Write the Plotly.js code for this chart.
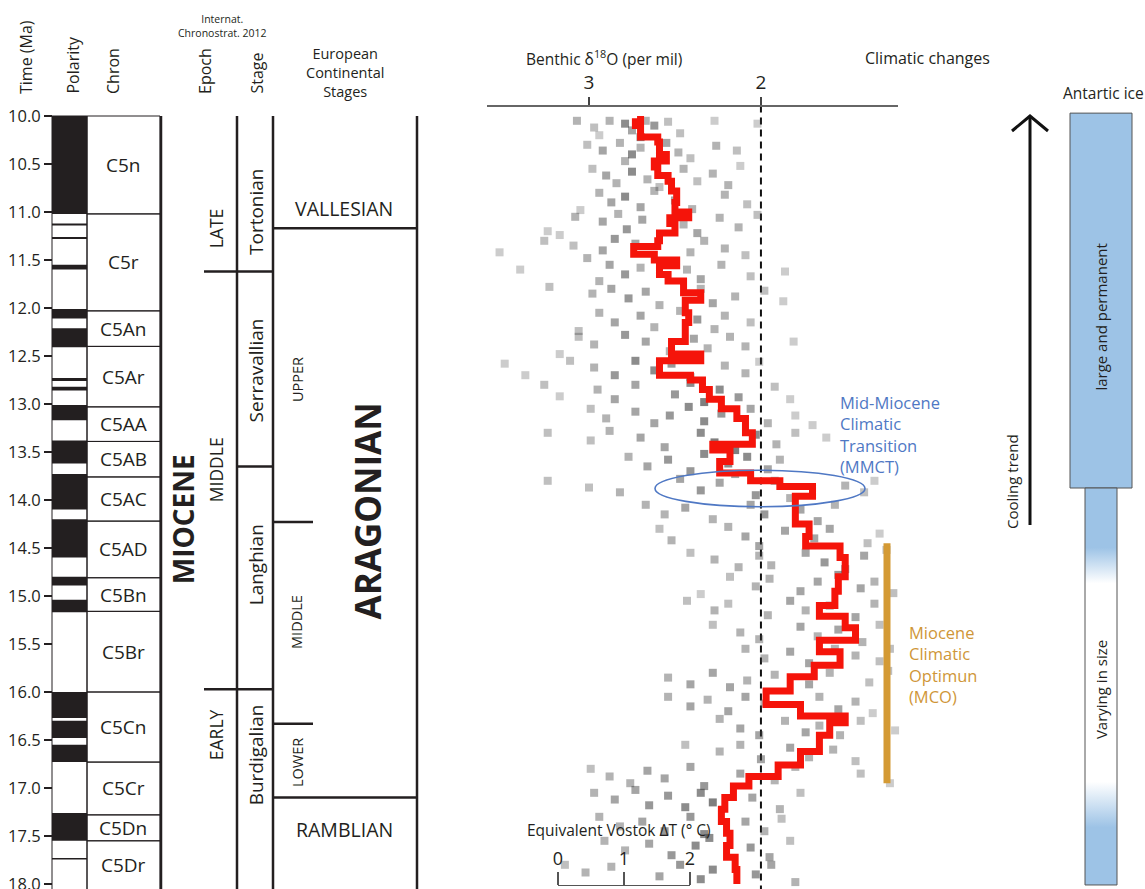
<!DOCTYPE html>
<html><head><meta charset="utf-8">
<script src="https://cdn.plot.ly/plotly-3.0.1.min.js"></script>
<style>html,body{margin:0;padding:0;background:#fff}#chart{width:1145px;height:889px}</style>
</head><body><div id="chart"></div>
<script>
// ---------------- DATA ----------------
const timeTicks = [10,10.5,11,11.5,12,12.5,13,13.5,14,14.5,15,15.5,16,16.5,17,17.5,18];
const isoTicks = [3, 2];
const vostokTicks = [0, 1, 2];

// magnetic polarity: normal (black) intervals, Ma
const normalStart = [10.00,11.12,11.26,11.55,12.01,12.21,12.73,12.82,13.01,13.38,13.73,14.20,14.80,15.04,16.00,16.30,16.55,17.26,17.73];
const normalEnd   = [11.02,11.14,11.28,11.60,12.11,12.41,12.76,12.86,13.17,13.62,14.10,14.60,14.89,15.17,16.27,16.48,16.73,17.55,17.745];

// chrons
const chronNames  = ['C5n','C5r','C5An','C5Ar','C5AA','C5AB','C5AC','C5AD','C5Bn','C5Br','C5Cn','C5Cr','C5Dn','C5Dr'];
const chronBounds = [10.00,11.02,12.03,12.40,13.03,13.39,13.76,14.22,14.81,15.16,16.00,16.73,17.28,17.55,18.06];

// epochs / stages (International Chronostratigraphic chart 2012)
const epochNames  = ['LATE','MIDDLE','EARLY'];
const epochBounds = [10.00, 11.62, 15.97, 18.06];
const stageNames  = ['Tortonian','Serravallian','Langhian','Burdigalian'];
const stageBounds = [10.00, 11.62, 13.65, 15.97, 18.06];

// European continental stages
const euroNames   = ['VALLESIAN','ARAGONIAN','RAMBLIAN'];
const euroBounds  = [10.00, 11.17, 17.10, 18.06];
const subNames    = ['UPPER','MIDDLE','LOWER'];
const subBounds   = [11.17, 14.23, 16.33, 17.10];

// benthic d18O samples (per mil, Ma, relative density)
const isoD = [
 3.07,2.97,2.88,2.79,2.75,2.67,2.62,2.54,2.47,2.27,2.02,2.94,2.70,
 3.01,2.92,2.82,2.75,2.70,2.55,2.48,2.41,2.26,2.14,2.79,
 2.98,2.90,2.84,2.75,2.66,2.45,2.37,2.28,2.19,2.12,2.59,
 2.94,2.87,2.79,2.70,2.62,2.50,2.40,2.21,2.08,3.05,
 3.08,2.92,2.83,2.78,2.69,2.45,2.37,2.24,2.13,2.02,3.24,3.17,
 3.26,3.09,2.92,2.85,2.73,2.41,2.33,2.21,2.09,3.78,3.52,3.01,
 3.63,3.40,2.88,2.79,2.70,2.43,2.35,2.23,2.06,1.86,2.94,
 3.23,2.98,2.87,2.77,2.67,2.35,2.28,2.15,1.98,1.87,2.59,
 2.94,2.85,2.70,2.62,2.47,2.37,2.27,2.21,2.06,3.06,
 3.06,2.97,2.79,2.67,2.53,2.39,2.31,2.18,2.09,1.81,3.17,
 3.74,3.49,3.37,3.11,2.97,2.85,2.73,2.62,2.52,2.41,2.21,2.09,2.01,
 3.26,3.17,2.95,2.85,2.73,2.50,2.41,2.33,2.24,2.13,1.92,1.83,
 2.99,2.90,2.73,2.62,2.53,2.42,2.33,2.23,2.06,1.96,1.80,1.70,
 3.24,2.99,2.88,2.70,2.56,2.35,2.27,2.15,2.03,1.91,1.80,1.62,
 2.77,2.66,2.54,2.41,2.33,2.19,2.08,1.96,1.89,2.15,
 3.24,3.00,2.82,2.47,2.35,2.24,2.03,1.92,1.83,1.51,1.40,1.34,
 2.67,2.56,2.44,2.28,2.06,1.98,1.77,1.67,1.57,1.16,
 2.59,2.52,2.19,2.09,2.01,1.86,1.69,1.60,1.38,1.31,
 2.41,2.27,2.13,2.01,1.94,1.74,1.63,1.51,1.40,1.27,0.96,0.71,
 2.18,2.03,1.95,1.77,1.67,1.55,1.42,1.34,1.23,2.35,
 2.43,2.27,2.19,1.96,1.83,1.74,1.60,1.45,1.34,1.19,0.99,
 2.28,2.12,2.01,1.77,1.67,1.55,1.41,1.31,1.19,
 2.09,1.98,1.83,1.72,1.57,1.45,1.31,1.25,1.08,
 2.54,2.41,2.28,2.18,2.08,1.92,1.72,1.60,1.37,1.26,
 2.54,2.41,2.31,2.19,2.09,1.98,1.66,1.55,1.45,1.35,
 2.24,2.12,2.01,1.86,1.74,1.66,1.54,1.42,1.22,1.13,
 2.44,2.24,2.12,2.00,1.83,1.72,1.58,1.45,1.15,1.05,
 2.99,2.88,2.76,2.66,2.56,2.41,2.33,2.12,1.92,1.80,1.42,1.25,
 2.97,2.85,2.73,2.65,2.54,2.44,2.35,2.28,2.05,1.89,1.77,
 2.94,2.82,2.69,2.56,2.41,2.33,2.09,1.98,1.88,
 2.91,2.79,2.65,2.52,2.38,2.30,2.06,1.95,1.83,
 3.14,3.02,2.87,2.59,2.47,2.35,2.28,2.03,1.94,1.80
];
const isoAge = [
 10.05,10.12,10.05,10.08,10.15,10.05,10.10,10.06,10.18,10.05,10.08,10.20,10.22,
 10.30,10.36,10.28,10.40,10.33,10.28,10.38,10.44,10.31,10.36,10.47,
 10.55,10.62,10.70,10.58,10.66,10.55,10.68,10.60,10.72,10.52,10.74,
 10.80,10.90,10.84,10.95,10.78,10.88,10.97,10.82,10.92,10.98,
 11.05,11.10,11.02,11.18,11.08,11.13,11.22,11.06,11.16,11.03,11.20,11.24,
 11.30,11.35,11.40,11.28,11.33,11.42,11.30,11.38,11.45,11.47,11.42,11.48,
 11.52,11.60,11.55,11.65,11.58,11.60,11.70,11.55,11.67,11.62,11.72,
 11.78,11.85,11.80,11.90,11.83,11.80,11.95,11.88,11.82,11.93,11.97,
 12.05,12.15,12.08,12.20,12.03,12.12,12.22,12.08,12.15,12.24,
 12.30,12.38,12.28,12.35,12.45,12.32,12.42,12.30,12.40,12.35,12.48,
 12.65,12.58,12.70,12.55,12.62,12.70,12.55,12.65,12.58,12.72,12.60,12.68,12.56,
 12.80,12.92,12.85,12.95,12.80,12.90,12.78,12.98,12.85,12.93,12.82,12.95,
 13.05,13.15,13.08,13.20,13.12,13.03,13.18,13.10,13.05,13.20,13.12,13.22,
 13.30,13.38,13.28,13.35,13.45,13.30,13.40,13.48,13.32,13.42,13.30,13.35,
 13.55,13.65,13.58,13.70,13.52,13.62,13.55,13.68,13.58,13.73,
 13.80,13.87,13.92,13.78,13.90,13.82,13.95,13.80,13.98,13.85,13.92,13.80,
 14.05,14.15,14.08,14.20,14.05,14.15,14.10,14.22,14.05,14.12,
 14.30,14.42,14.28,14.38,14.48,14.32,14.40,14.30,14.45,14.35,
 14.55,14.62,14.70,14.58,14.68,14.55,14.65,14.72,14.58,14.52,14.65,14.60,
 14.80,14.90,14.82,14.95,14.85,14.78,14.92,14.85,14.97,14.98,
 15.05,15.15,15.08,15.20,15.05,15.15,15.10,15.22,15.08,15.18,15.12,
 15.30,15.38,15.45,15.32,15.42,15.35,15.48,15.30,15.45,
 15.55,15.65,15.58,15.70,15.55,15.62,15.68,15.55,15.72,
 15.85,15.92,15.80,15.95,15.88,15.82,15.92,15.80,15.90,15.78,
 16.05,16.15,16.08,16.20,16.05,16.12,16.05,16.18,16.10,16.22,
 16.28,16.38,16.45,16.30,16.42,16.35,16.45,16.30,16.40,16.48,
 16.55,16.62,16.55,16.70,16.58,16.68,16.60,16.72,16.58,16.65,
 16.80,16.88,16.95,16.82,16.90,16.78,16.98,16.85,16.92,16.78,16.85,16.95,
 17.05,17.12,17.02,17.18,17.08,17.20,17.05,17.15,17.10,17.22,17.05,
 17.30,17.40,17.35,17.45,17.30,17.48,17.35,17.45,17.32,
 17.55,17.65,17.58,17.70,17.60,17.52,17.62,17.72,17.55,
 17.80,17.88,17.82,17.92,17.80,17.95,17.85,17.90,17.80,17.98
];
const isoWeight = [
 .3,.25,.3,.45,.35,.3,.4,.25,.25,.2,.2,.2,.5,
 .25,.35,.3,.45,.3,.35,.3,.25,.3,.25,.3,
 .25,.35,.3,.45,.3,.3,.25,.3,.3,.2,.25,
 .3,.35,.45,.35,.3,.35,.3,.3,.25,.2,
 .3,.35,.3,.4,.35,.3,.35,.3,.3,.25,.2,.2,
 .25,.25,.35,.4,.35,.3,.3,.3,.25,.25,.2,.3,
 .2,.2,.35,.4,.3,.3,.35,.3,.25,.2,.3,
 .25,.3,.35,.4,.35,.3,.35,.3,.25,.2,.3,
 .3,.35,.35,.3,.3,.4,.3,.3,.25,.25,
 .25,.3,.4,.35,.3,.35,.3,.3,.3,.2,.2,
 .25,.2,.2,.25,.3,.4,.45,.45,.4,.35,.3,.3,.2,
 .25,.2,.3,.35,.35,.4,.45,.5,.45,.4,.25,.2,
 .25,.3,.35,.35,.4,.45,.45,.4,.35,.3,.2,.2,
 .25,.25,.3,.35,.35,.45,.5,.5,.45,.3,.25,.2,
 .3,.35,.4,.4,.45,.45,.45,.35,.3,.35,
 .25,.25,.3,.35,.4,.35,.4,.35,.3,.3,.25,.2,
 .3,.3,.35,.3,.35,.4,.35,.35,.3,.2,
 .25,.3,.3,.35,.35,.35,.35,.35,.25,.2,
 .25,.3,.3,.3,.3,.35,.4,.4,.35,.25,.2,.2,
 .25,.3,.3,.35,.35,.4,.35,.3,.25,.2,
 .25,.3,.25,.3,.35,.3,.35,.35,.3,.25,.2,
 .25,.3,.3,.35,.3,.35,.3,.25,.2,
 .3,.3,.35,.35,.3,.3,.25,.25,.2,
 .3,.35,.35,.35,.3,.3,.35,.3,.25,.25,
 .3,.35,.3,.35,.35,.3,.3,.35,.3,.2,
 .3,.35,.35,.3,.35,.3,.3,.25,.2,.2,
 .25,.3,.3,.35,.35,.3,.3,.25,.2,.2,
 .25,.3,.3,.35,.35,.35,.4,.35,.3,.3,.25,.2,
 .3,.35,.35,.4,.4,.45,.45,.5,.35,.3,.25,
 .3,.3,.35,.4,.4,.45,.35,.3,.25,
 .3,.3,.35,.4,.45,.45,.4,.35,.25,
 .25,.3,.3,.35,.4,.45,.45,.4,.35,.3
];

// smoothed d18O curve (red)
const smoothD = [2.70,2.70,2.73,2.70,2.60,2.59,2.55,2.62,2.60,2.54,
 2.52,2.49,2.50,2.42,2.53,2.50,2.59,2.60,2.74,2.62,
 2.49,2.59,2.54,2.45,2.35,2.44,2.42,2.44,2.52,2.35,
 2.59,2.41,2.34,2.30,2.23,2.14,2.09,2.05,2.28,2.18,
 2.24,2.06,1.89,1.70,1.80,1.80,1.72,1.74,1.54,1.51,
 1.55,1.57,1.66,1.51,1.45,1.66,1.54,1.69,1.83,1.97,
 1.77,1.51,1.60,1.66,1.77,1.90,2.07,2.16,2.21,2.23,
 2.20,2.18,2.20,2.15,2.14];
const smoothAge = [10.00,10.06,10.10,10.22,10.27,10.40,10.47,10.53,10.62,10.68,
 10.78,10.90,11.00,11.06,11.12,11.22,11.30,11.36,11.44,11.50,
 11.56,11.65,11.72,11.84,11.92,12.05,12.15,12.35,12.48,12.55,
 12.70,12.75,12.85,12.95,13.05,13.15,13.30,13.42,13.48,13.60,
 13.72,13.80,13.86,13.96,14.10,14.25,14.38,14.48,14.60,14.80,
 14.95,15.10,15.21,15.33,15.46,15.58,15.72,15.84,15.99,16.13,
 16.25,16.32,16.45,16.62,16.76,16.88,16.98,17.10,17.22,17.35,
 17.47,17.60,17.72,17.85,18.00];

// climatic events (Ma) and Antarctic ice state (Ma)
const mmctAge = [13.69, 14.07];
const mmctD   = [2.616, 1.395];
const mcoAge  = [14.45, 16.95];
const iceLargeAge   = [9.97, 13.875];
const iceVaryingAge = [13.875, 18.01];

// ---------------- DRAWING ----------------
const W = 1145, H = 889;
const px = x => x / W;
const py = y => 1 - y / H;
const FONT = '"Open Sans", "Noto Sans", sans-serif';
const INK = '#231f20';
const shapes = [], ann = [];

function rect(x0, x1, a0, a1, fill, lw) {
  shapes.push({type:'rect', xref:'paper', yref:'y', x0:px(x0), x1:px(x1), y0:a0, y1:a1,
    fillcolor:fill, line:{color:INK, width:lw}});
}
function vline(x, a0, a1, w) {
  shapes.push({type:'line', xref:'paper', yref:'y', x0:px(x), x1:px(x), y0:a0, y1:a1, line:{color:INK, width:w}});
}
function hline(x0, x1, a, w) {
  shapes.push({type:'line', xref:'paper', yref:'y', x0:px(x0), x1:px(x1), y0:a, y1:a, line:{color:INK, width:w}});
}
function label(text, x, y, size, o) {
  o = o || {};
  ann.push(Object.assign({text:text, x:px(x), y:y, xref:'paper', yref:'y', showarrow:false,
    font:{family:FONT, size:size, color:o.color || INK}, xanchor:'center', yanchor:'middle'}, o.extra || {}));
}
function plabel(text, x, y, size, o) {
  o = o || {};
  ann.push(Object.assign({text:text, x:px(x), y:py(y), xref:'paper', yref:'paper', showarrow:false,
    font:{family:FONT, size:size, color:o.color || INK}, xanchor:'center', yanchor:'middle'}, o.extra || {}));
}

// polarity column
rect(52, 87, 10.0, 18.06, '#fff', 1);
for (let i = 0; i < normalStart.length; i++) rect(52, 87, normalStart[i], normalEnd[i], INK, 0);
// chron column
for (let i = 0; i < chronNames.length; i++) {
  rect(87, 160, chronBounds[i], chronBounds[i+1], 'rgba(0,0,0,0)', 1);
  label(chronNames[i], 123, (chronBounds[i] + chronBounds[i+1]) / 2, 19);
}
// column rules
[161, 237, 273, 417].forEach(x => vline(x, 10.0, 18.1, 2.5));
// epoch / stage boundaries
hline(204, 273, epochBounds[1], 2.5);
hline(204, 273, epochBounds[2], 2.5);
hline(237, 273, stageBounds[2], 2.5);
// European stages
hline(273, 417, euroBounds[1], 2.5);
hline(273, 417, euroBounds[2], 2.5);
hline(273, 313, subBounds[1], 2.5);
hline(273, 313, subBounds[2], 2.5);

const rot = {extra:{textangle:-90}};
label('<b>MIOCENE</b>', 183, 14.2, 28, rot);
const epochLabelAge = [11.17, 13.69, 16.45];
epochNames.forEach((n, i) => label(n, 216, epochLabelAge[i], 17.5, rot));
const stageLabelAge = [11.0, 12.65, 14.68, 16.66];
stageNames.forEach((n, i) => label(n, 256, stageLabelAge[i], 19, rot));
const subLabelAge = [12.75, 15.27, 16.74];
subNames.forEach((n, i) => label(n, 297, subLabelAge[i], 14.5, rot));
label(euroNames[0], 344, 10.96, 19.5);
label('<b>' + euroNames[1] + '</b>', 368, 14.12, 35, rot);
label(euroNames[2], 344, 17.43, 19.5);

// headers
const rb = {extra:{textangle:-90, yanchor:'bottom'}};
plabel('Time (Ma)', 26, 96, 16, rb);
plabel('Polarity', 73, 96, 16, rb);
plabel('Chron', 113, 96, 16, rb);
plabel('Epoch', 205, 96, 16, rb);
plabel('Stage', 257, 96, 16, rb);
plabel('Internat.<br>Chronostrat. 2012', 222, 26, 10.5);
plabel('European<br>Continental<br>Stages', 345, 73, 14.5);
plabel('Benthic δ<sup>18</sup>O (per mil)', 604, 58, 15.5);
plabel('Climatic changes', 927, 58, 16);
plabel('Antartic ice', 1103, 93, 15.5);
plabel('Equivalent Vostok ΔT (° C)', 619, 830, 15.5);

// MMCT / MCO annotations
const blue = '#4f78c4', gold = '#cf9638';
plabel('Mid-Miocene<br>Climatic<br>Transition<br>(MMCT)', 838, 434, 16.5, {color:blue, extra:{xanchor:'left', align:'left'}});
plabel('Miocene<br>Climatic<br>Optimun<br>(MCO)', 907, 664, 16.5, {color:gold, extra:{xanchor:'left', align:'left'}});
shapes.push({type:'circle', xref:'x', yref:'y', x0:mmctD[0], x1:mmctD[1], y0:mmctAge[0], y1:mmctAge[1],
  line:{color:blue, width:1.6}});
shapes.push({type:'line', xref:'paper', yref:'y', x0:px(887), x1:px(887), y0:mcoAge[0], y1:mcoAge[1],
  line:{color:'#d49a34', width:7}});
// dashed 2 per mil reference
shapes.push({type:'line', xref:'x', yref:'y', x0:2, x1:2, y0:9.89, y1:18.1, layer:'below',
  line:{color:'#111', width:2, dash:'7px,5px'}});

// cooling trend arrow
shapes.push({type:'line', xref:'paper', yref:'paper', x0:px(1030), x1:px(1030), y0:py(525), y1:py(116),
  line:{color:'#111', width:3}});
shapes.push({type:'path', xref:'paper', yref:'paper',
  path:`M ${px(1012)},${py(131)} L ${px(1030)},${py(116)} L ${px(1048)},${py(131)}`,
  line:{color:'#111', width:3}});
plabel('Cooling trend', 1012, 482, 15, {extra:{textangle:-90}});
label('large and permanent', 1101, 12.1, 15, rot);
label('Varying in size', 1101, 15.98, 15, rot);

const iceBlue = 'rgb(157,195,230)';
const traces = [
  {type:'scatter', mode:'markers', x:isoD, y:isoAge, xaxis:'x', yaxis:'y', cliponaxis:false,
   marker:{symbol:'square', size:8, color:'#3a3a3a', opacity:isoWeight.map(w => Math.min(1, w * 1.3)), line:{width:0}},
   hoverinfo:'skip'},
  {type:'scatter', mode:'lines', x:smoothD, y:smoothAge, xaxis:'x', yaxis:'y',
   line:{color:'#f5140a', width:7, shape:'hv'}, hoverinfo:'skip'},
  {type:'scatter', mode:'lines', xaxis:'x2', yaxis:'y', fill:'toself', fillcolor:iceBlue,
   x:[1070,1132,1132,1070,1070], y:[iceLargeAge[0],iceLargeAge[0],iceLargeAge[1],iceLargeAge[1],iceLargeAge[0]],
   line:{color:'#555', width:1}, hoverinfo:'skip'},
  {type:'scatter', mode:'lines', xaxis:'x2', yaxis:'y', fill:'toself',
   x:[1085,1117,1117,1085,1085], y:[iceVaryingAge[0],iceVaryingAge[0],iceVaryingAge[1],iceVaryingAge[1],iceVaryingAge[0]],
   fillgradient:{type:'vertical', start:iceVaryingAge[0], stop:iceVaryingAge[1],
     colorscale:[[0,iceBlue],[0.15,iceBlue],[0.24,'#ffffff'],[0.74,'#ffffff'],[0.855,iceBlue],[1,iceBlue]]},
   line:{color:'#555', width:1}, hoverinfo:'skip'},
  {type:'scatter', mode:'markers', x:[1], y:[30], xaxis:'x3', yaxis:'y', marker:{opacity:0}, hoverinfo:'skip'}
];

const layout = {
  width:W, height:H, margin:{l:0, r:0, t:0, b:0, pad:0},
  paper_bgcolor:'#fff', plot_bgcolor:'rgba(0,0,0,0)', showlegend:false,
  font:{family:FONT, color:INK},
  xaxis:{domain:[px(487), px(898)], range:[3.593, 1.203], anchor:'free', position:py(105), side:'top',
    showline:true, linecolor:'#666', linewidth:1.5, ticks:'outside', ticklen:8, tickwidth:1.5, tickcolor:'#444',
    tickvals:isoTicks, tickfont:{size:19, family:FONT, color:INK}, showgrid:false, zeroline:false, fixedrange:true},
  yaxis:{domain:[0, 1], range:[18.052, 8.7917], anchor:'free', position:px(52), side:'left',
    tickvals:timeTicks, tickformat:'.1f', ticks:'outside', ticklen:8, tickwidth:2, tickcolor:INK,
    ticklabeloverflow:'allow',
    showline:false, showgrid:false, zeroline:false, tickfont:{size:16.5, family:FONT, color:INK}, fixedrange:true},
  xaxis2:{domain:[0, 1], range:[0, W], anchor:'y', visible:false, fixedrange:true},
  xaxis3:{domain:[px(558), px(690)], range:[0, 2], anchor:'free', position:py(885), side:'top',
    showline:true, linecolor:'#555', linewidth:1.2, ticks:'outside', ticklen:13, tickwidth:1.2, tickcolor:'#555',
    tickvals:vostokTicks, tickfont:{size:18, family:FONT, color:INK}, showgrid:false, zeroline:false, fixedrange:true},
  shapes:shapes, annotations:ann
};

Plotly.newPlot('chart', traces, layout, {staticPlot:true, displayModeBar:false});
</script></body></html>
